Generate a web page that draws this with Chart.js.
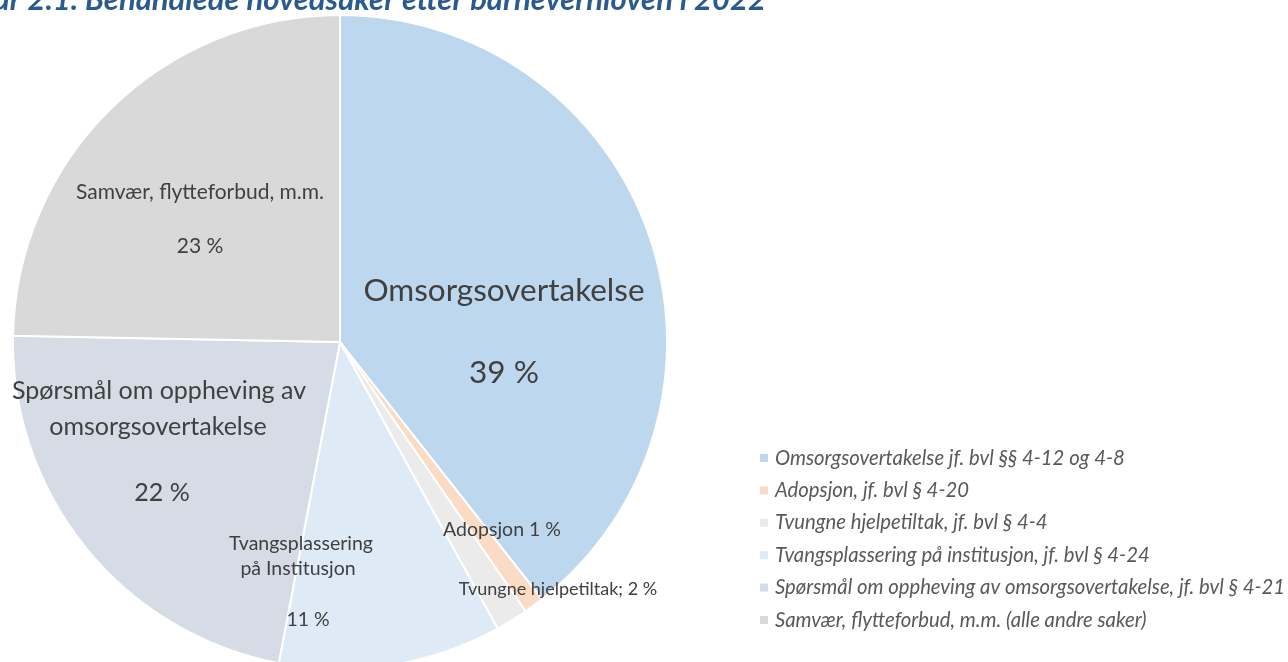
<!DOCTYPE html>
<html>
<head>
<meta charset="utf-8">
<script src="https://cdn.jsdelivr.net/npm/chart.js@4.4.1/dist/chart.umd.min.js"></script>
<style>
  html, body { margin: 0; padding: 0; background: #ffffff; overflow: hidden; width: 1288px; height: 662px; }
  #wrap { position: absolute; left: 0; top: 0; width: 1288px; height: 700px; }
</style>
</head>
<body>
<div id="wrap"><canvas id="c" width="1288" height="700"></canvas></div>
<script>
// ---- data ----
const titleText = "Figur 2.1. Behandlede hovedsaker etter barnevernloven i 2022";
const legendLabels = [
  "Omsorgsovertakelse jf. bvl §§ 4-12 og 4-8",
  "Adopsjon, jf. bvl § 4-20",
  "Tvungne hjelpetiltak, jf. bvl § 4-4",
  "Tvangsplassering på institusjon, jf. bvl § 4-24",
  "Spørsmål om oppheving av omsorgsovertakelse, jf. bvl § 4-21",
  "Samvær, flytteforbud, m.m. (alle andre saker)"
];
// slice shares (percent of the circle, as drawn)
const shares = [39.4, 1.0, 1.6, 11.0, 22.3, 24.7];
// data label texts as printed in the chart
const sliceLabelLines = [
  ["Omsorgsovertakelse", "39 %"],
  ["Adopsjon 1 %"],
  ["Tvungne hjelpetiltak; 2 %"],
  ["Tvangsplassering", "på Institusjon", "11 %"],
  ["Spørsmål om oppheving av", "omsorgsovertakelse", "22 %"],
  ["Samvær, flytteforbud, m.m.", "23 %"]
];
const sliceColors = ["#BDD7EE", "#F9DBC6", "#EBEBEB", "#DEEBF7", "#D6DCE5", "#D9D9D9"];

// ---- layout (positions of labels relative to the pie centre) ----
const FONT = "Lato, 'Open Sans', sans-serif";
const labelLayout = [
  { size: 31.5, lines: [[164, -51], [164, 31]] },
  { size: 19.5, lines: [[162, 188]] },
  { size: 18, lines: [[218, 247]] },
  { size: 19.5, lines: [[-39, 202], [-42, 227], [-32, 278]] },
  { size: 25, lines: [[-181, 49], [-182, 85], [-178, 151]] },
  { size: 21, lines: [[-140, -150], [-140, -96]] }
];

const labelPlugin = {
  id: 'sliceLabels',
  afterDatasetsDraw(chart) {
    const ctx = chart.ctx;
    const arc = chart.getDatasetMeta(0).data[0];
    const cx = arc.x, cy = arc.y;
    ctx.save();
    ctx.fillStyle = "#404040";
    ctx.textAlign = "center";
    ctx.textBaseline = "middle";
    sliceLabelLines.forEach((lines, i) => {
      const lay = labelLayout[i];
      ctx.font = lay.size + "px " + FONT;
      lines.forEach((t, j) => {
        const p = lay.lines[j];
        ctx.fillText(t, cx + p[0], cy + p[1]);
      });
    });
    ctx.restore();
  }
};

const legendPlugin = {
  id: 'customLegend',
  afterDraw(chart) {
    const ctx = chart.ctx;
    const labels = chart.data.labels;
    const colors = chart.data.datasets[0].backgroundColor;
    ctx.save();
    ctx.textBaseline = "middle";
    ctx.textAlign = "left";
    ctx.font = "italic 20.3px " + FONT;
    labels.forEach((t, i) => {
      const y = 458 + i * 32.4;
      ctx.fillStyle = colors[i];
      ctx.fillRect(760, y - 4, 8, 8);
      ctx.fillStyle = "#595959";
      ctx.fillText(t, 775, y);
    });
    // title (mostly cut off at the top of the picture)
    ctx.font = "italic bold 31px " + FONT;
    ctx.fillStyle = "#2B5A8C";
    ctx.textAlign = "right";
    ctx.textBaseline = "alphabetic";
    ctx.fillText(titleText, 766, 10);
    ctx.restore();
  }
};

new Chart(document.getElementById('c'), {
  type: 'pie',
  data: {
    labels: legendLabels,
    datasets: [{
      data: shares,
      backgroundColor: sliceColors,
      borderColor: "#ffffff",
      borderWidth: 2,
      radius: 327
    }]
  },
  options: {
    responsive: false,
    animation: false,
    layout: { padding: { left: 13, right: 621, top: 15, bottom: 31 } },
    plugins: {
      legend: { display: false },
      tooltip: { enabled: false },
      title: { display: false }
    }
  },
  plugins: [labelPlugin, legendPlugin]
});
</script>
</body>
</html>
